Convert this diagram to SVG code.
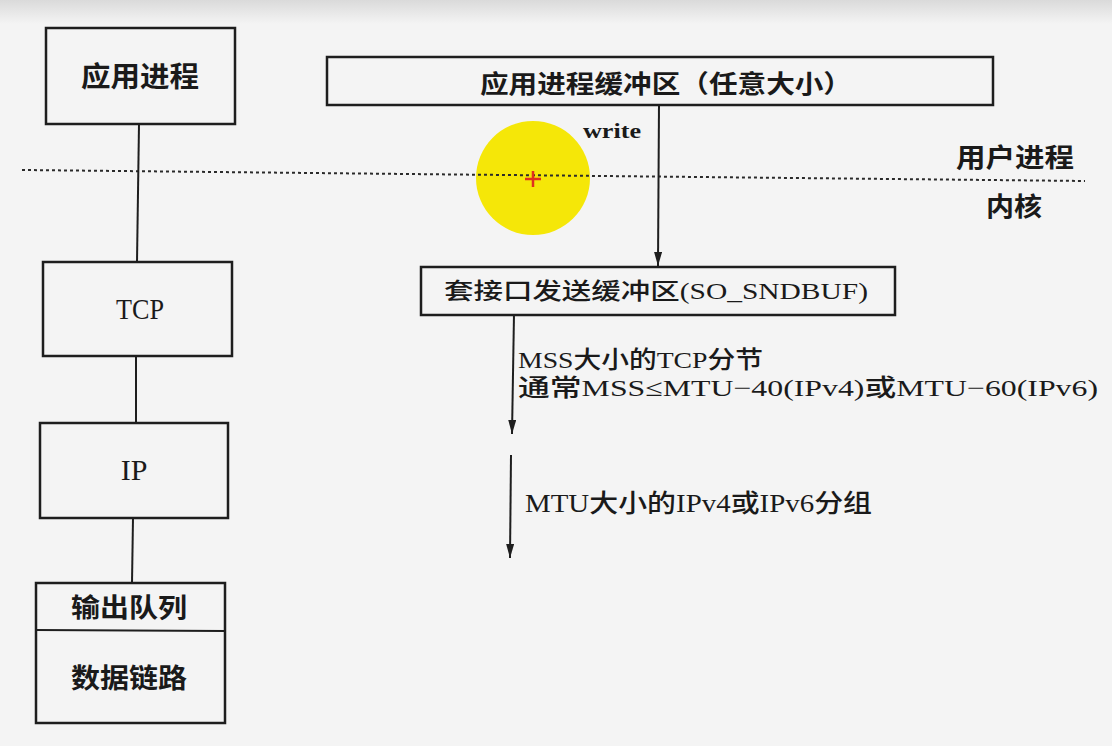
<svg xmlns="http://www.w3.org/2000/svg" width="1112" height="746" viewBox="0 0 1112 746">
<defs>
<linearGradient id="topband" x1="0" y1="0" x2="0" y2="1">
<stop offset="0" stop-color="#dadada"/>
<stop offset="1" stop-color="#f4f4f4"/>
</linearGradient>
<marker id="arrow" viewBox="0 0 14 8" refX="14" refY="4" markerWidth="14" markerHeight="8" markerUnits="userSpaceOnUse" orient="auto">
<path d="M0,0 L14,4 L0,8 Z" fill="#1e1e1e"/>
</marker>
<style>
.box{fill:none;stroke:#1e1e1e;stroke-width:2.5}
.line{stroke:#1e1e1e;stroke-width:2;fill:none}
.cjk{font-family:"Noto Sans CJK SC","Noto Sans CJK JP",sans-serif;font-weight:700;fill:#1a1a1a}
.mix{font-family:"Liberation Serif","Noto Sans CJK SC",serif;font-weight:500;fill:#1a1a1a}
.lat{font-family:"Liberation Serif",serif;fill:#1a1a1a}
</style>
</defs>
<rect x="0" y="0" width="1112" height="746" fill="#f4f4f4"/>
<rect x="0" y="0" width="1112" height="24" fill="url(#topband)"/>

<g id="cursor">
<circle cx="533" cy="178" r="57" fill="#f5e708"/>
</g>

<g id="divider">
<line x1="22" y1="170" x2="1085" y2="181" stroke="#2a2a2a" stroke-width="2" stroke-dasharray="3 3"/>
<text class="cjk" x="956" y="167" font-size="26" textLength="118" lengthAdjust="spacingAndGlyphs">用户进程</text>
<text class="cjk" x="986" y="216" font-size="26" textLength="56" lengthAdjust="spacingAndGlyphs">内核</text>
</g>

<g id="cursor-mark">
<path d="M525,179 H541 M533,171 V187" stroke="#e0301e" stroke-width="2.5"/>
</g>

<g id="connectors">
<line class="line" x1="139" y1="124" x2="137" y2="262"/>
<line class="line" x1="136" y1="356" x2="136" y2="423"/>
<line class="line" x1="133" y1="518" x2="132" y2="583"/>
<line class="line" x1="659" y1="104" x2="658" y2="266" marker-end="url(#arrow)"/>
<line class="line" x1="514" y1="314" x2="512" y2="434" marker-end="url(#arrow)"/>
<line class="line" x1="511" y1="455" x2="510" y2="558" marker-end="url(#arrow)"/>
<text class="lat" x="583" y="138" font-size="22" font-weight="700" textLength="58" lengthAdjust="spacingAndGlyphs">write</text>
<text class="mix" x="518" y="368" font-size="24" textLength="245" lengthAdjust="spacingAndGlyphs">MSS大小的TCP分节</text>
<text class="mix" x="518" y="396" font-size="24" textLength="580" lengthAdjust="spacingAndGlyphs">通常MSS≤MTU−40(IPv4)或MTU−60(IPv6)</text>
<text class="mix" x="525" y="512" font-size="25" textLength="347" lengthAdjust="spacingAndGlyphs">MTU大小的IPv4或IPv6分组</text>
</g>

<g id="app-process">
<rect class="box" x="46" y="28" width="189" height="96"/>
<text class="cjk" x="140" y="87" font-size="28" text-anchor="middle" textLength="118" lengthAdjust="spacingAndGlyphs">应用进程</text>
</g>

<g id="app-buffer">
<rect class="box" x="327" y="57" width="666" height="48"/>
<text class="cjk" x="480" y="93" font-size="25" textLength="372" lengthAdjust="spacingAndGlyphs">应用进程缓冲区（任意大小）</text>
</g>

<g id="socket-buffer">
<rect class="box" x="421" y="267" width="474" height="48"/>
<text class="mix" x="444" y="299" font-size="23" textLength="424" lengthAdjust="spacingAndGlyphs">套接口发送缓冲区(SO_SNDBUF)</text>
</g>

<g id="tcp">
<rect class="box" x="43" y="262" width="189" height="94"/>
<text class="lat" x="140" y="319" font-size="30" text-anchor="middle" textLength="48" lengthAdjust="spacingAndGlyphs">TCP</text>
</g>

<g id="ip">
<rect class="box" x="40" y="423" width="188" height="95"/>
<text class="lat" x="134" y="480" font-size="30" text-anchor="middle">IP</text>
</g>

<g id="datalink">
<rect class="box" x="36" y="583" width="189" height="140"/>
<line class="line" x1="36" y1="630" x2="225" y2="631"/>
<text class="cjk" x="129" y="617" font-size="26" text-anchor="middle" textLength="116" lengthAdjust="spacingAndGlyphs">输出队列</text>
<text class="cjk" x="129" y="688" font-size="27" text-anchor="middle" textLength="116" lengthAdjust="spacingAndGlyphs">数据链路</text>
</g>
</svg>
